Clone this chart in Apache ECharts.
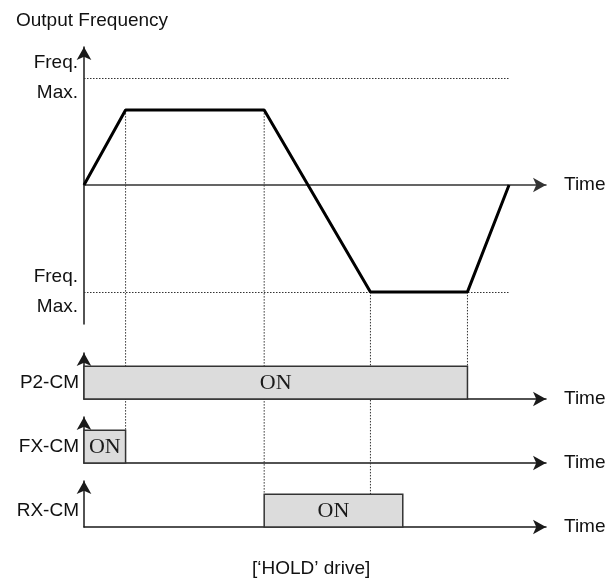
<!DOCTYPE html>
<html>
<head>
<meta charset="utf-8">
<script src="https://cdn.jsdelivr.net/npm/echarts@6/dist/echarts.min.js"></script>
<style>html,body{margin:0;padding:0;background:#fff;}#c{width:608px;height:579px;}</style>
</head>
<body>
<div id="c"></div>
<script>
// ---- data ----
const freqTime = [0, 9, 39, 62, 83, 92];
const freqValue = [0, 70, 70, -100, -100, 0];
const freqMax = 100;
const laneNames = ['P2-CM', 'FX-CM', 'RX-CM'];
const laneOnStart = [0, 0, 39];
const laneOnEnd = [83, 9, 69];
const onText = 'ON';
const axisName = 'Time';
const topTitle = 'Output Frequency';
const caption = '[\u2018HOLD\u2019 drive]';
// guide lines: [index into freqTime, lane index it drops to]
const guides = [[1, 1], [2, 2], [3, 2], [4, 0]];

const SANS = 'Liberation Sans';
const SERIF = 'Liberation Serif';
const FS = 19;
const TXT = '#111';
const AXIS = '#1a1a1a';

const chart = echarts.init(document.getElementById('c'), null, {renderer: 'canvas'});

const grids = [
  {left: 84, width: 462, top: 47, height: 277, outerBoundsMode: 'none', containLabel: false},
  {left: 84, width: 462, top: 353, height: 46, outerBoundsMode: 'none', containLabel: false},
  {left: 84, width: 462, top: 417, height: 46, outerBoundsMode: 'none', containLabel: false},
  {left: 84, width: 462, top: 481, height: 46, outerBoundsMode: 'none', containLabel: false}
];

const xAxes = grids.map((g, i) => ({
  type: 'value', gridIndex: i, min: 0, max: 100,
  axisLine: {show: true, onZero: true, symbol: ['none', 'arrow'], symbolSize: [11, 13],
    lineStyle: {color: i === 0 ? '#333' : AXIS, width: 1.5}},
  axisTick: {show: false}, axisLabel: {show: false}, splitLine: {show: false},
  name: axisName, nameLocation: 'end', nameGap: 18,
  nameTextStyle: {fontFamily: SANS, fontSize: FS, color: TXT, verticalAlign: 'middle'}
}));

const yAxes = [{
  type: 'value', gridIndex: 0, min: -130, max: 129,
  axisLine: {show: true, onZero: false, symbol: ['none', 'arrow'], symbolSize: [11, 13], lineStyle: {color: AXIS, width: 1.5}},
  axisTick: {show: false}, splitLine: {show: false},
  axisLabel: {show: true, customValues: [-freqMax, freqMax], formatter: () => 'Freq.\nMax.',
    fontFamily: SANS, fontSize: FS, color: TXT, lineHeight: 30, margin: 6, align: 'right'}
}].concat(laneNames.map((n, i) => ({
  type: 'value', gridIndex: i + 1, min: 0, max: 1.4,
  axisLine: {show: true, onZero: false, symbol: ['none', 'arrow'], symbolSize: [11, 13], lineStyle: {color: AXIS, width: 1.5}},
  axisTick: {show: false}, splitLine: {show: false},
  axisLabel: {show: true, customValues: [0.5], formatter: () => n,
    fontFamily: SANS, fontSize: FS, color: TXT, margin: 5, align: 'right'}
})));

const series = [{
  type: 'line', xAxisIndex: 0, yAxisIndex: 0, z: 5,
  data: freqTime.map((t, i) => [t, freqValue[i]]),
  symbol: 'none', lineStyle: {color: '#000', width: 3},
  markLine: {
    silent: true, symbol: 'none', label: {show: false},
    lineStyle: {type: [1.5, 1.5], color: '#333', width: 1},
    data: [
      [{coord: [0, freqMax]}, {coord: [freqTime[freqTime.length - 1], freqMax]}],
      [{coord: [0, -freqMax]}, {coord: [freqTime[freqTime.length - 1], -freqMax]}]
    ]
  }
}];

laneNames.forEach((n, i) => {
  series.push({
    type: 'custom', xAxisIndex: i + 1, yAxisIndex: i + 1, z: 4,
    data: [[laneOnStart[i], laneOnEnd[i]]],
    renderItem: (params, api) => {
      const p0 = api.coord([api.value(0), 1]);
      const p1 = api.coord([api.value(1), 0]);
      return {
        type: 'group',
        children: [{
          type: 'rect',
          shape: {x: p0[0], y: p0[1], width: p1[0] - p0[0], height: p1[1] - p0[1]},
          style: {fill: '#dcdcdc', stroke: '#333', lineWidth: 1.5}
        }, {
          type: 'text',
          style: {text: onText, x: (p0[0] + p1[0]) / 2, y: (p0[1] + p1[1]) / 2 + 1,
            align: 'center', verticalAlign: 'middle',
            font: '22px "' + SERIF + '"', fill: '#1a1a1a'}
        }]
      };
    }
  });
});

chart.setOption({
  animation: false,
  backgroundColor: '#fff',
  title: [
    {text: topTitle, left: 11, top: 6, textStyle: {fontFamily: SANS, fontSize: FS, fontWeight: 'normal', color: TXT}},
    {text: caption, left: 247, top: 554, textStyle: {fontFamily: SANS, fontSize: FS, fontWeight: 'normal', color: TXT}}
  ],
  grid: grids,
  xAxis: xAxes,
  yAxis: yAxes,
  series: series
});

// vertical guide lines, positioned through the axes' scales
const g = guides.map(([ti, lane]) => {
  const a = chart.convertToPixel({xAxisIndex: 0, yAxisIndex: 0}, [freqTime[ti], freqValue[ti]]);
  const b = chart.convertToPixel({xAxisIndex: lane + 1, yAxisIndex: lane + 1}, [freqTime[ti], 1]);
  return {
    type: 'line', z: 1, silent: true,
    shape: {x1: a[0], y1: a[1], x2: b[0], y2: b[1]},
    style: {stroke: '#333', lineWidth: 1, lineDash: [1.5, 1.5]}
  };
});
chart.setOption({graphic: g});
</script>
</body>
</html>
